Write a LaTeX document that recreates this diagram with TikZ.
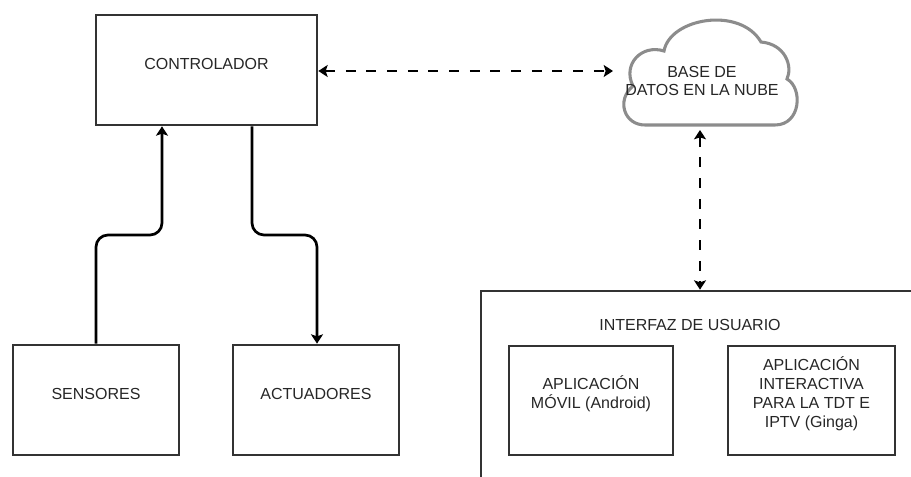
\documentclass[tikz,border=0pt]{standalone}
\usepackage{fontspec}
\setmainfont{Liberation Sans}
\usetikzlibrary{arrows.meta,fit,calc}
\begin{document}
\begin{tikzpicture}[x=0.75pt,y=-0.75pt,
  txt/.style={align=center, text=black!85, font=\fontsize{12}{14.2}\selectfont},
  box/.style={txt, draw=black!80, line width=2pt, inner sep=0pt},
  solidarrow/.style={draw=black, line width=2pt, rounded corners=9pt, -{Stealth[length=7pt,width=9pt,inset=1.5pt]}},
  dasharrow/.style={draw=black, line width=2.1pt, dash pattern=on 7.5pt off 8pt,
     {Stealth[length=7pt,width=9pt,inset=1.5pt]}-{Stealth[length=7pt,width=9pt,inset=1.5pt]}},
  cloudline/.style={draw=black!45, line width=2.3pt, fill=white}
]
\useasboundingbox (0,0) rectangle (911,477);
\clip (0,0) rectangle (911,477);

% boxes
\node[box, fit={(96,15)(317,125)}] (ctrl) {CONTROLADOR};
\node[box, fit={(13,345)(179,455)}] (sens) {SENSORES};
\node[box, fit={(233,345)(399,455)}] (act) {ACTUADORES};

% user interface (open frame)
\node[box, fit={(481,291)(930,500)}] (ui) {};
\node[txt] (uitxt) at (690,325) {INTERFAZ DE USUARIO};
\node[box, fit={(509,346)(673,455)}] (movil) {APLICACIÓN\\MÓVIL (Android)};
\node[box, fit={(728,346)(895,455)}] (tdt) {APLICACIÓN\\INTERACTIVA\\PARA LA TDT E\\IPTV (Ginga)};

% cloud
\path[cloudline] (645,125) .. controls (624,125) and (616,100) .. (633,86)
  .. controls (622,64) and (642,44) .. (664,51)
  .. controls (670,18) and (740,6) .. (761,42)
  .. controls (785,44) and (793,66) .. (787,79)
  .. controls (803,88) and (801,125) .. (775,125) -- cycle;
\node[txt] (cloud) at (702,81) {BASE DE\\DATOS EN LA NUBE};
\coordinate (cloudL) at (613,71);
\coordinate (cloudB) at (700,130);

% connectors
\draw[solidarrow] (sens.north) -- (sens.north |- 0,235) -| (ctrl.south -| 162,0);
\draw[solidarrow] (ctrl.south -| 252,0) -- (252,235) -| (act.north -| 317,0);
\draw[dasharrow] (ctrl.east |- 0,71) -- (cloudL);
\draw[dasharrow] (cloudB) -- (ui.north -| cloudB);
\end{tikzpicture}
\end{document}
